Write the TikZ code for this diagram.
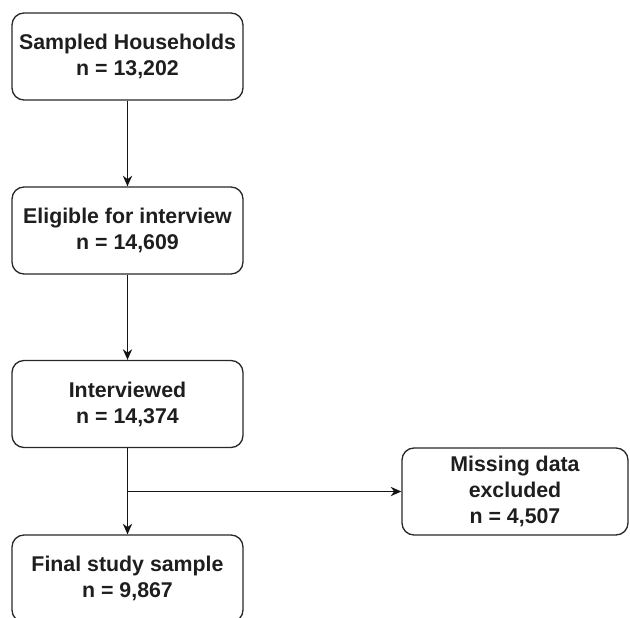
\documentclass[tikz,border=0pt]{standalone}
\usepackage{fontspec}
\setmainfont{Liberation Sans}
\usetikzlibrary{arrows.meta}

\tikzset{every picture/.style={line width=0.75pt}}
\tikzset{
  flowbox/.style={draw={rgb, 255:red, 40; green, 40; blue, 40}, line width=1pt, rounded corners=9pt,
    minimum width=173.25pt, minimum height=65.25pt, align=center, inner sep=0pt,
    font=\fontsize{16}{19.5}\selectfont\bfseries, text={rgb, 255:red, 30; green, 30; blue, 30}},
  flowarrow/.style={draw={rgb, 255:red, 20; green, 20; blue, 20}, line width=1pt, -{Stealth[length=8pt,width=7pt]}}
}

\begin{document}
\begin{tikzpicture}[x=0.75pt,y=0.75pt,yscale=-1,xscale=1]
\useasboundingbox (0,0) rectangle (630,617);
\clip (0,0) rectangle (630,617);

%Shape: Rectangle [id:sampled]
\node [flowbox] (sampled) at (127.5,56.5) {Sampled Households\\n = 13,202};
%Shape: Rectangle [id:eligible]
\node [flowbox] (eligible) at (127.5,230.5) {Eligible for interview\\n = 14,609};
%Shape: Rectangle [id:interviewed]
\node [flowbox] (interviewed) at (127.5,404) {Interviewed\\n = 14,374};
%Shape: Rectangle [id:final]
\node [flowbox] (final) at (127.5,578.5) {Final study sample\\n = 9,867};
%Shape: Rectangle [id:excluded]
\node [flowbox, minimum width=169.5pt] (excluded) at (515,491.5) {Missing data\\excluded\\n = 4,507};

%Straight Lines
\coordinate (split) at (127.5,491.5);
\draw [flowarrow] (sampled) -- (eligible);
\draw [flowarrow] (eligible) -- (interviewed);
\draw [flowarrow] (interviewed) -- (final);
\draw [flowarrow] (split) -- (excluded);
\end{tikzpicture}
\end{document}
